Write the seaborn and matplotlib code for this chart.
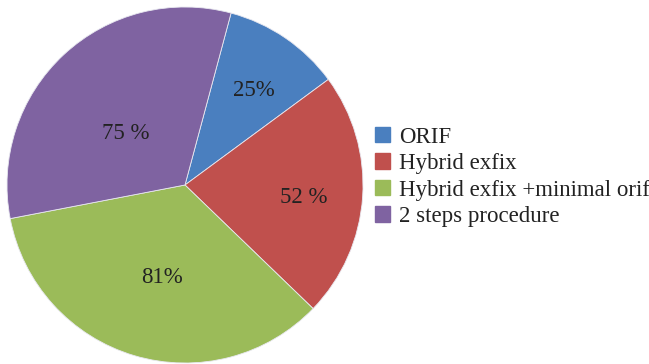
import numpy as np
import matplotlib
matplotlib.use("Agg")
import matplotlib.pyplot as plt
import seaborn as sns

categories = ["ORIF", "Hybrid exfix", "Hybrid exfix +minimal orif", "2 steps procedure"]
values = [25, 52, 81, 75]
pct_labels = ["25%", "52 %", "81%", "75 %"]
colors = ["#4A7FBF", "#C0504D", "#9BBB59", "#7F63A1"]

sns.set_theme(style="white")
plt.rcParams["font.family"] = ["Liberation Serif", "DejaVu Serif"]

fig = plt.figure(figsize=(6.49, 3.64), dpi=100)
ax = fig.add_axes([7/649, 1/364, 356/649, 356/364])

wedges, _ = ax.pie(values, colors=colors, startangle=75, counterclock=False,
                   radius=1.0, wedgeprops=dict(edgecolor="#e8e8f0", linewidth=0.6))
ax.set_xlim(-1, 1)
ax.set_ylim(-1, 1)
ax.set_aspect("equal")
ax.axis("off")

# per-label distance from centre and angular nudge (Excel-like placement)
dists = [0.67, 0.67, 0.52, 0.45]
nudges = [-1, -1, 2, 5]
for w, lab, d, n in zip(wedges, pct_labels, dists, nudges):
    ang = np.deg2rad((w.theta1 + w.theta2) / 2 + n)
    ax.text(d * np.cos(ang), d * np.sin(ang), lab, ha="center", va="center_baseline",
            fontsize=16.5, color="#222222")

handles = [plt.Rectangle((0, 0), 1, 1, color=c) for c in colors]
fig.legend(handles, categories, loc="center left",
           bbox_to_anchor=(375/649, 1 - 177/364), frameon=False,
           fontsize=16.5, handlelength=0.66, handleheight=0.66,
           handletextpad=0.4, labelspacing=0.24, borderpad=0,
           borderaxespad=0, labelcolor="#222222")

fig.savefig("out.png", dpi=100)
